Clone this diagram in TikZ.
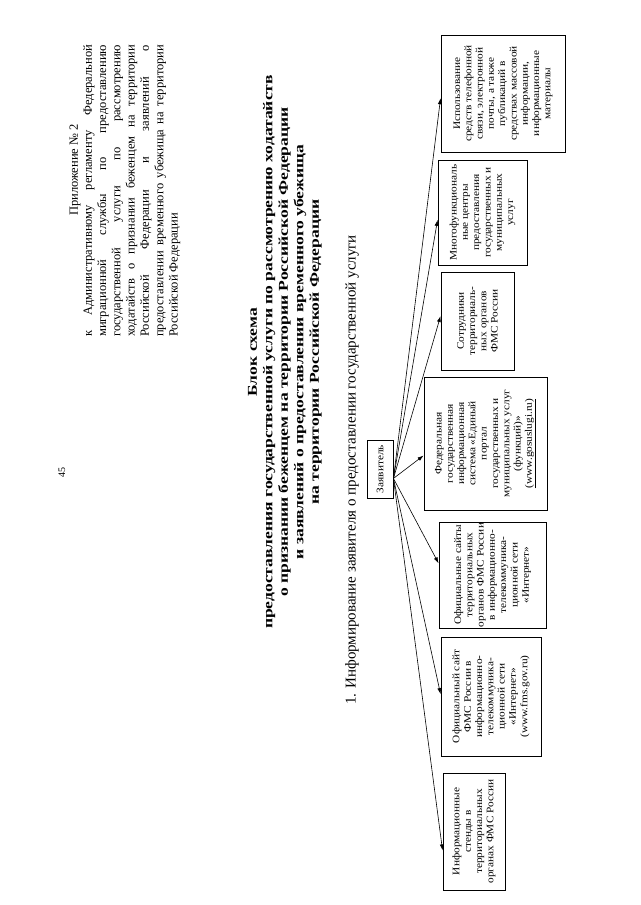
\documentclass[tikz,border=0pt]{standalone}
\usepackage{fontspec}
\setmainfont{Liberation Serif}
\newfontfamily\hdrfont{Liberation Serif}[FakeStretch=1.3]
\newfontfamily\boxfont{Liberation Serif}[FakeStretch=1.13]
\newfontfamily\appfont{Liberation Serif}[FakeStretch=1.0]
\usetikzlibrary{arrows.meta,calc}
\begin{document}
\begin{tikzpicture}[x=1pt,y=-1pt,
  every node/.style={rotate=90, inner sep=0pt},
  blk/.style={draw, line width=0.9pt, align=center, font=\boxfont\fontsize{10}{11.3}\selectfont},
  arr/.style={-{Latex[length=6pt,width=4pt]}, line width=0.6pt},
]
\path[use as bounding box, fill=white] (0,0) rectangle (640,905);

\node[font=\fontsize{10}{12}\selectfont] (pg) at (62,472) {45};

\node[font=\appfont\fontsize{12.5}{14.3}\selectfont] (pril) at (75,170) {Приложение № 2};
\node[anchor=north west, text width=292pt, align=justify, font=\appfont\fontsize{12.5}{14.3}\selectfont] (par) at (83,337)
 {к Административному регламенту Федеральной\linebreak
  миграционной службы по предоставлению\linebreak
  государственной услуги по рассмотрению\linebreak
  ходатайств о признании беженцем на территории\linebreak
  Российской Федерации и заявлений о\linebreak
  предоставлении временного убежища на территории\linebreak
  Российской Федерации};

\node[font=\hdrfont\bfseries\fontsize{13.5}{15.5}\selectfont, align=center] (hdr) at (285,352)
 {Блок схема\\
  предоставления государственной услуги по рассмотрению ходатайств\\
  о признании беженцем на территории Российской Федерации\\
  и заявлений о предоставлении временного убежища\\
  на территории Российской Федерации};

\node[anchor=west, font=\fontsize{15}{17}\selectfont] (inf) at (352,705)
 {1. Информирование заявителя о предоставлении государственной услуги};

\node[blk, minimum width=58pt, minimum height=26pt] (zay) at (380,469) {Заявитель};

\node[blk, minimum width=117pt, minimum height=62pt] (b1) at (474,831.5)
 {Информационные\\стенды в\\территориальных\\органах ФМС России};
\node[blk, minimum width=119pt, minimum height=100pt] (b2) at (491,696.5)
 {Официальный сайт\\ФМС России в\\информационно-\\телекоммуника-\\ционной сети\\«Интернет»\\(www.fms.gov.ru)};
\node[blk, minimum width=106pt, minimum height=107pt] (b3) at (492.5,575)
 {Официальные сайты\\территориальных\\органов ФМС России\\в информационно-\\телекоммуника-\\ционной сети\\«Интернет»};
\node[blk, minimum width=133pt, minimum height=123pt] (b4) at (485.5,443.5)
 {Федеральная\\государственная\\информационная\\система «Единый\\портал\\государственных и\\муниципальных услуг\\(функций)»\\\underline{(www.gosuslugi.ru)}};
\node[blk, minimum width=98pt, minimum height=73pt] (b5) at (477.5,321)
 {Сотрудники\\территориаль-\\ных органов\\ФМС России};
\node[blk, minimum width=105pt, minimum height=89pt] (b6) at (482.5,212.5)
 {Многофункциональ\\ные центры\\предоставления\\государственных и\\муниципальных\\услуг};
\node[blk, minimum width=117pt, minimum height=124pt] (b7) at (503,93.5)
 {Использование\\средств телефонной\\связи, электронной\\почты, а также\\публикаций в\\средствах массовой\\информации,\\информационные\\материалы};

\coordinate (o) at ($(zay.south east)!0.66!(zay.south west)$);
\draw[arr] (o) -- ($(b1.north east)!0.66!(b1.north west)$);
\draw[arr] (o) -- ($(b2.north east)!0.48!(b2.north west)$);
\draw[arr] (o) -- ($(b3.north east)!0.39!(b3.north west)$);
\draw[arr] (o) -- ($(b4.north east)!0.59!(b4.north west)$);
\draw[arr] (o) -- ($(b5.north east)!0.45!(b5.north west)$);
\draw[arr] (o) -- ($(b6.north east)!0.57!(b6.north west)$);
\draw[arr] (o) -- ($(b7.north east)!0.54!(b7.north west)$);
\end{tikzpicture}
\end{document}
